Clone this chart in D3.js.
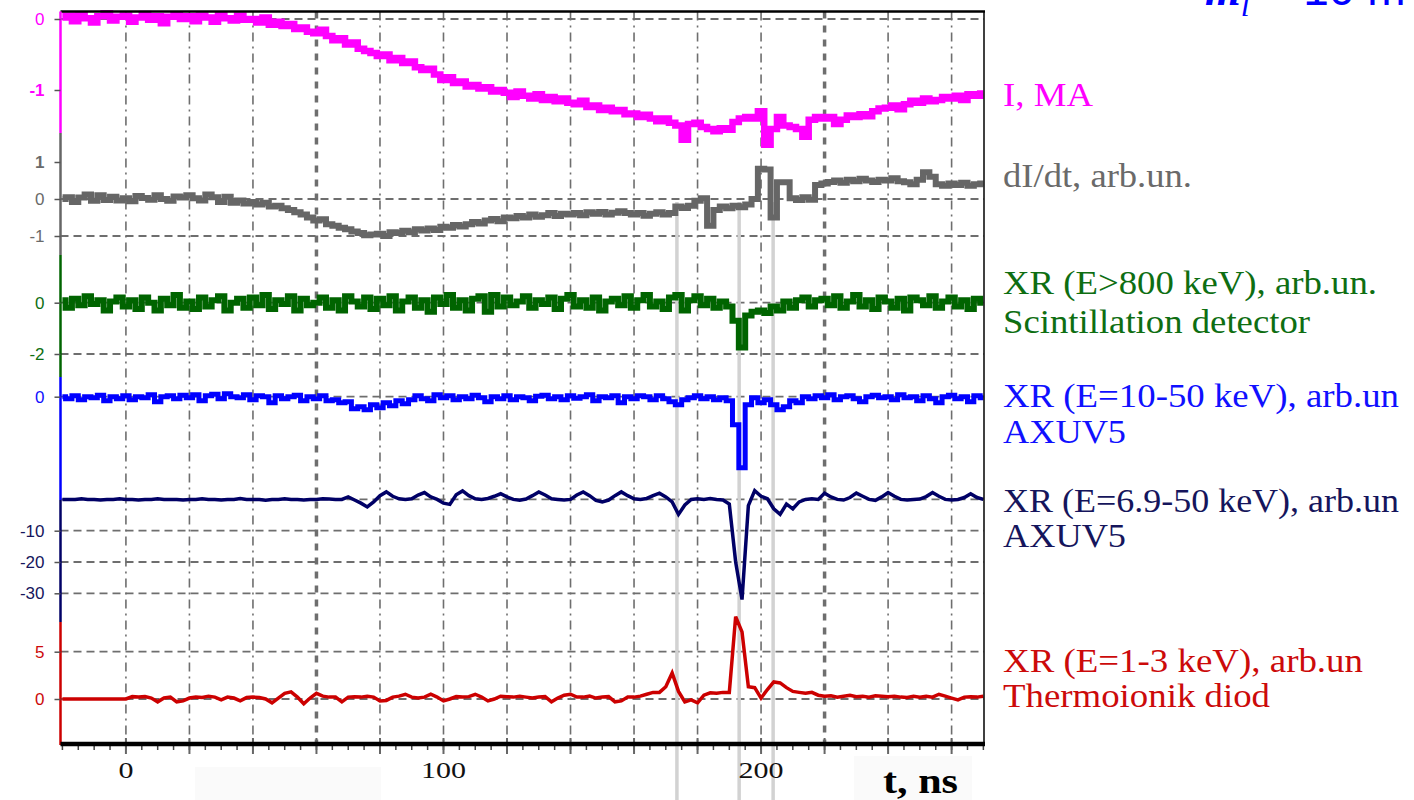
<!DOCTYPE html>
<html>
<head>
<meta charset="utf-8">
<script src="https://cdn.jsdelivr.net/npm/d3@7"></script>
<style>
  html, body { margin: 0; padding: 0; background: #fff; }
  svg { display: block; }
</style>
</head>
<body>
<svg id="chart" width="1414" height="800"></svg>
<script>
// Oscilloscope record: samples every 2 ns starting at t = -20 ns
const tStart = -20, tStep = 2;

// Discharge current, MA
const currentMA = [
  0.02, 0.05, -0.03, 0.06, 0.01, -0.05, 0.04, 0.08, -0.02, 0.03,
  0.05, -0.04, 0.02, 0.07, -0.01, 0.04, -0.06, 0.03, 0.06, 0.0,
  0.04, -0.03, 0.05, 0.02, -0.04, 0.06, 0.01, -0.02, 0.05, -0.01,
  0.0, -0.05, 0.02, -0.08, -0.04, -0.1, -0.07, -0.14, -0.12, -0.18,
  -0.2, -0.15, -0.24, -0.3, -0.27, -0.36, -0.33, -0.42, -0.45, -0.48,
  -0.52, -0.5, -0.58, -0.55, -0.62, -0.6, -0.68, -0.72, -0.7, -0.78,
  -0.86, -0.82, -0.9, -0.88, -0.95, -0.93, -0.98, -0.96, -1.02, -1.0,
  -1.04, -1.1, -1.02, -1.08, -1.12, -1.06, -1.14, -1.1, -1.16, -1.12,
  -1.18, -1.2, -1.15, -1.24, -1.22, -1.28, -1.25, -1.3, -1.28, -1.34,
  -1.33, -1.38, -1.35, -1.4, -1.44, -1.4, -1.46, -1.5, -1.7, -1.48,
  -1.46, -1.52, -1.55, -1.58, -1.54, -1.56, -1.45, -1.4, -1.38, -1.4,
  -1.3, -1.77, -1.55, -1.38, -1.5, -1.52, -1.55, -1.66, -1.42, -1.38,
  -1.4, -1.38, -1.48, -1.42, -1.36, -1.38, -1.34, -1.37, -1.3, -1.26,
  -1.25, -1.22, -1.27, -1.2, -1.15, -1.18, -1.12, -1.16, -1.14, -1.1,
  -1.12, -1.08, -1.14, -1.06, -1.08, -1.05
];

// Current derivative, arb. units
const dIdt = [
  0.0, 0.05, -0.08, 0.04, 0.12, -0.05, 0.1, -0.03, 0.06, -0.04,
  0.02, -0.06, 0.08, 0.03, -0.02, 0.1, 0.0, -0.05, 0.07, 0.04,
  0.1, 0.02, -0.04, 0.12, 0.05, -0.08, 0.06, -0.1, -0.04, -0.12,
  -0.08, -0.15, -0.1, -0.2, -0.18, -0.25, -0.3, -0.36, -0.42, -0.5,
  -0.58, -0.55, -0.68, -0.72, -0.78, -0.82, -0.88, -0.92, -0.98, -0.96,
  -0.94, -1.0, -0.9, -0.92, -0.86, -0.9, -0.82, -0.85, -0.8, -0.84,
  -0.75, -0.78, -0.7, -0.74, -0.68, -0.62, -0.66, -0.58, -0.54, -0.6,
  -0.5, -0.52, -0.46, -0.5, -0.42, -0.48, -0.44, -0.38, -0.46, -0.4,
  -0.42, -0.38, -0.44, -0.36, -0.4, -0.35, -0.42, -0.37, -0.33, -0.38,
  -0.42, -0.38, -0.45, -0.4, -0.36, -0.42, -0.38, -0.2, -0.24, -0.18,
  -0.05, 0.02, -0.72, -0.3, -0.2, -0.25, -0.18, -0.22, -0.15, 0.0,
  0.82, 0.8, -0.5, 0.45, 0.45, 0.02, -0.03, 0.05, -0.02, 0.38,
  0.42, 0.46, 0.5, 0.44, 0.52, 0.48, 0.55, 0.5, 0.46, 0.52,
  0.5, 0.56, 0.48, 0.45, 0.4, 0.52, 0.72, 0.6, 0.4, 0.36,
  0.42, 0.38, 0.44, 0.36, 0.4, 0.42
];

// Hard X-rays, E > 800 keV (scintillation detector)
const xrHard = [
  0.1, -0.2, 0.15, -0.1, 0.25, -0.05, 0.1, -0.3, 0.05, 0.2,
  -0.15, 0.1, -0.25, 0.2, 0.0, -0.3, 0.15, -0.1, 0.3, -0.2,
  0.05, -0.25, 0.2, -0.15, 0.1, 0.25, -0.3, 0.0, 0.15, -0.2,
  0.2, -0.1, 0.3, -0.25, 0.1, -0.05, 0.25, -0.3, 0.15, -0.1,
  0.0, 0.2, -0.2, 0.1, -0.3, 0.25, 0.05, -0.15, 0.2, -0.25,
  0.15, -0.1, 0.25, -0.3, 0.05, 0.2, -0.2, 0.1, -0.35, 0.2,
  -0.05, 0.3, -0.2, 0.1, -0.3, 0.15, 0.25, -0.35, 0.3, -0.15,
  0.2, -0.1, 0.05, 0.25, -0.2, 0.1, -0.05, 0.2, -0.25, 0.15,
  0.3, -0.15, 0.1, -0.2, 0.2, -0.3, 0.05, 0.15, -0.1, 0.25,
  -0.2, 0.1, 0.3, -0.15, 0.05, -0.25, 0.2, 0.3, -0.3, 0.1,
  0.25, -0.1, 0.15, -0.2, 0.05, -0.15, -0.7, -1.75, -0.5, -0.35,
  -0.3, -0.4, -0.15, -0.3, 0.05, -0.2, 0.1, 0.2, -0.15, 0.1,
  0.15, -0.1, 0.25, -0.2, 0.05, 0.3, -0.15, 0.1, -0.25, 0.2,
  0.05, -0.2, 0.15, -0.3, 0.2, 0.1, -0.1, 0.25, -0.2, 0.05,
  0.2, -0.15, 0.1, -0.25, 0.15, 0.0
];

// X-rays 10-50 keV (AXUV5)
const xr10to50 = [
  0.0, -0.2, 0.1, -0.3, 0.0, -0.1, 0.15, -0.4, 0.0, -0.2,
  0.1, -0.3, 0.0, -0.1, 0.2, -0.5, 0.0, 0.1, -0.2, 0.15,
  -0.1, 0.2, -0.4, 0.1, 0.25, -0.2, 0.3, 0.0, -0.1, 0.2,
  -0.3, 0.1, 0.0, -0.6, 0.1, -0.2, 0.0, 0.15, -0.4, 0.0,
  -0.2, 0.1, -0.4, -0.3, -0.6, -0.5, -1.2, -1.0, -1.3, -0.8,
  -1.1, -0.6, -0.9, -0.4, -0.7, -0.3, 0.1, -0.2, -0.4, 0.2,
  -0.1, 0.1, -0.3, 0.0, -0.2, 0.15, -0.1, -0.5, 0.0, -0.2,
  0.1, -0.3, 0.0, -0.1, -0.4, 0.05, 0.15, -0.2, 0.0, -0.3,
  0.1, -0.15, 0.0, 0.2, -0.4, 0.0, -0.1, 0.1, -0.6, 0.0,
  -0.2, 0.1, 0.0, -0.3, 0.1, -0.2, -0.5, -0.8, -0.3, -0.1,
  0.1, -0.2, 0.0, -0.3, -0.1, -0.4, -2.8, -7.1, -0.8, -0.1,
  -0.6, -0.3, -0.8, -1.3, -1.0, -0.4, -0.6, 0.0, -0.2, 0.1,
  -0.1, 0.2, -0.3, 0.0, 0.1, -0.2, -0.5, 0.0, 0.15, -0.1,
  0.0, -0.3, 0.2, -0.1, 0.0, -0.4, 0.1, -0.2, -0.6, 0.0,
  0.15, -0.2, 0.0, -0.5, 0.1, -0.1
];

// X-rays 6.9-50 keV (AXUV5)
const xr69to50 = [
  0, 0, 0, 0.2, 0, 0, -0.2, 0, 0, 0.2,
  0, 0, -0.2, 0, 0, 0.2, 0, 0, 0, -0.2,
  0, 0, 0.2, 0, 0, -0.2, 0, 0, 0.3, 0,
  0, 0, -0.3, 0, 0, 0.2, 0, 0, -0.2, 0,
  0, 0.2, 0.1, 0, 0, 0.8, -0.2, -1.2, -2.4, -0.8,
  1.2, 2.4, 1.0, 0.2, 0, 0.2, 1.4, 2.2, 0.8, 0,
  -1.2, -1.6, 1.5, 2.7, 1.2, 0.2, 0, 0.3, 1.0, 1.8,
  0.8, 0, -0.3, 0.1, 1.2, 2.4, 1.4, 0.2, 0, -0.2,
  0, 1.4, 2.4, 1.2, -0.3, -0.8, -0.2, 1.2, 2.4, 1.2,
  0.2, 0, 0.3, 1.2, 2.0, 0.8, -0.8, -4.8, -1.8, 0,
  0.2, 0, 0.3, 0, -0.2, -1.5, -20, -32, -2, 2.8,
  1.0, 0.2, -3.0, -4.8, -1.5, -3.0, -0.8, 0, 0.2, 0,
  2.0, 0.8, 0, -0.2, 0.6, 2.0, 1.0, 0, -0.3, 0.8,
  2.2, 1.0, 0, -0.2, 0, 0.1, 0.9, 2.2, 1.0, 0,
  -0.2, 0, 0.6, 1.8, 0.6, 0
];

// Soft X-rays 1-3 keV (thermionic diode)
const xr1to3 = [
  0, 0, 0, 0, 0, 0, 0, 0, 0, 0,
  0, 0.25, 0.2, 0.25, 0.1, -0.3, 0.1, 0.2, -0.3, -0.2,
  0.1, 0.2, 0.15, 0.3, 0.2, -0.1, 0.2, 0.1, -0.2, 0.15,
  0.2, 0.15, 0.0, -0.4, 0.1, 0.6, 0.75, 0.2, -0.5, 0.1,
  0.6, 0.3, 0.2, 0.2, -0.3, 0.2, 0.25, 0.2, 0.3, 0.2,
  -0.2, -0.15, 0.2, 0.3, 0.5, 0.2, 0.1, 0.2, 0.5, 0.2,
  -0.2, 0.0, 0.25, 0.2, 0.25, 0.5, 0.2, -0.2, 0.0, 0.3,
  0.25, 0.2, 0.3, 0.2, 0.1, 0.2, 0.25, -0.3, 0.1, 0.4,
  0.5, 0.2, 0.2, 0.3, 0.1, 0.2, 0.25, -0.3, -0.2, 0.2,
  0.2, 0.3, 0.5, 0.7, 0.7, 1.3, 2.75, 0.8, -0.3, -0.1,
  -0.4, 0.4, 0.65, 0.6, 0.7, 0.7, 8.7, 7.1, 1.3, 1.2,
  0.1, 1.0, 1.8, 1.7, 1.2, 0.8, 0.7, 0.6, 0.7, 0.4,
  0.3, 0.35, 0.2, 0.3, 0.4, 0.25, 0.3, 0.2, 0.35, 0.3,
  0.25, 0.3, 0.2, 0.15, 0.3, 0.2, 0.3, 0.2, 0.5, 0.3,
  0.1, -0.1, 0.2, 0.25, 0.2, 0.3
];

// Axis ticks and labels
const timeLabels = [0, 100, 200];
const gridTimes = [0, 20, 40, 60, 80, 100, 120, 140, 160, 180, 200, 220, 240, 260];
const markerTimes = [173.5, 193.1, 203.8];
const currentTicks = [0, -1], dIdtTicks = [1, 0, -1], xrHardTicks = [0, -2];
const xr10to50Ticks = [0], xr69to50Ticks = [-10, -20, -30], xr1to3Ticks = [5, 0];
const currentGrid = [0], dIdtGrid = [0, -1], xrHardGrid = [0, -2];
const xr10to50Grid = [0], xr69to50Grid = [0, -10, -20, -30], xr1to3Grid = [5, 0];

const legendText = [
  ["I, MA"],
  ["dI/dt, arb.un."],
  ["XR (E>800 keV), arb.un.", "Scintillation detector"],
  ["XR (E=10-50 keV), arb.un", "AXUV5"],
  ["XR (E=6.9-50 keV), arb.un", "AXUV5"],
  ["XR (E=1-3 keV), arb.un", "Thermoionik diod"]
];

// ---- layout ----
const plot = { left: 60.5, right: 984, top: 11.5, bottom: 744 };
const x = d3.scaleLinear().domain([-20.6, 270.2]).range([plot.left, plot.right]);

const traces = [
  { values: currentMA, color: "#ff00ff", text: "#ff00ff", width: 6.5, curve: d3.curveStep,
    domain: [0, -1], range: [19, 90], ticks: currentTicks, grid: currentGrid, seg: [11.5, 133],
    bold: [-1], legendY: [106], legendW: [90] },
  { values: dIdt, color: "#666666", text: "#6a6a6a", width: 6, curve: d3.curveStep,
    domain: [-1, 1], range: [236, 162], ticks: dIdtTicks, grid: dIdtGrid, seg: [133, 255],
    bold: [1], legendY: [187], legendW: [189] },
  { values: xrHard, color: "#006400", text: "#0e6e12", width: 6, curve: d3.curveStep,
    domain: [0, -2], range: [302.7, 354], ticks: xrHardTicks, grid: xrHardGrid, seg: [255, 377],
    bold: [], legendY: [294, 333], legendW: [374, 307] },
  { values: xr10to50, color: "#0000ff", text: "#1010ff", width: 5, curve: d3.curveStep,
    domain: [0, -7.1], range: [396.7, 467.7], ticks: xr10to50Ticks, grid: xr10to50Grid, seg: [377, 500],
    bold: [], legendY: [407, 443], legendW: [396, 123] },
  { values: xr69to50, color: "#000066", text: "#15155c", width: 3.5, curve: d3.curveLinear,
    domain: [-10, -30], range: [530.7, 593.3], ticks: xr69to50Ticks, grid: xr69to50Grid, seg: [500, 622],
    bold: [], legendY: [512, 547], legendW: [396, 123] },
  { values: xr1to3, color: "#cc0000", text: "#cc0a0a", width: 3.5, curve: d3.curveLinear,
    domain: [0, 5], range: [699, 651.7], ticks: xr1to3Ticks, grid: xr1to3Grid, seg: [622, 745],
    bold: [], legendY: [672, 707], legendW: [360, 267] }
];
traces.forEach(tr => { tr.y = d3.scaleLinear().domain(tr.domain).range(tr.range); });

const svg = d3.select("#chart");
svg.append("rect").attr("width", 1414).attr("height", 800).attr("fill", "#fff");

// faint panels behind the time labels
svg.append("rect").attr("x", 195).attr("y", 767).attr("width", 186).attr("height", 33).attr("fill", "#fafafa");
svg.append("rect").attr("x", 854).attr("y", 756).attr("width", 118).attr("height", 44).attr("fill", "#fafafa");

// ---- grid ----
const grid = svg.append("g");
grid.selectAll("line.v").data(gridTimes).join("line")
  .attr("x1", d => x(d)).attr("x2", d => x(d))
  .attr("y1", plot.top).attr("y2", plot.bottom)
  .attr("stroke", "#6e6e6e")
  .attr("stroke-width", d => (d === 60 || d === 220) ? 3.5 : 1.6)
  .attr("stroke-dasharray", d => (d === 60 || d === 220) ? "7,7" : "9,5,2,5");

traces.forEach(tr => {
  grid.selectAll(null).data(tr.grid).join("line")
    .attr("x1", plot.left).attr("x2", plot.right)
    .attr("y1", d => tr.y(d)).attr("y2", d => tr.y(d))
    .attr("stroke", "#6e6e6e").attr("stroke-width", 1.8)
    .attr("stroke-dasharray", "8,5");
});

// event markers
svg.append("g").selectAll("line").data(markerTimes).join("line")
  .attr("x1", d => x(d)).attr("x2", d => x(d))
  .attr("y1", 202).attr("y2", 800)
  .attr("stroke", "#d2d2d2").attr("stroke-width", 3.5);

// ---- traces ----
traces.forEach(tr => {
  const line = d3.line()
    .x((d, i) => x(tStart + i * tStep))
    .y(d => tr.y(d))
    .curve(tr.curve);
  svg.append("path")
    .datum(tr.values)
    .attr("d", line)
    .attr("fill", "none")
    .attr("stroke", tr.color)
    .attr("stroke-width", tr.width)
    .attr("stroke-linejoin", "miter");
});

// ---- frame ----
svg.append("line").attr("x1", plot.left).attr("x2", plot.right + 1).attr("y1", plot.top).attr("y2", plot.top)
  .attr("stroke", "#000").attr("stroke-width", 2.5);
svg.append("line").attr("x1", plot.right).attr("x2", plot.right).attr("y1", plot.top).attr("y2", plot.bottom)
  .attr("stroke", "#000").attr("stroke-width", 1.5);

// left axis: one coloured segment per channel with its own ticks
traces.forEach(tr => {
  svg.append("line").attr("x1", plot.left).attr("x2", plot.left)
    .attr("y1", tr.seg[0]).attr("y2", tr.seg[1])
    .attr("stroke", tr.color).attr("stroke-width", 2.5);
  const ax = svg.append("g")
    .attr("transform", `translate(${plot.left},0)`)
    .call(d3.axisLeft(tr.y).tickValues(tr.ticks).tickSize(6).tickPadding(10).tickFormat(d => String(d)));
  ax.select(".domain").remove();
  ax.selectAll(".tick line").attr("stroke", "#555").attr("stroke-width", 1.5);
  ax.selectAll(".tick text")
    .attr("fill", tr.text)
    .attr("font-family", "'Liberation Sans', Arial, sans-serif")
    .attr("font-size", 17)
    .attr("font-weight", d => tr.bold.includes(d) ? "bold" : "normal");
});

// bottom time axis
const minorTimes = d3.range(-20, 271, 5);
svg.append("g").selectAll("line").data(minorTimes).join("line")
  .attr("x1", d => x(d)).attr("x2", d => x(d))
  .attr("y1", plot.bottom).attr("y2", plot.bottom + 6)
  .attr("stroke", "#444").attr("stroke-width", 1.5);
svg.append("g").selectAll("line").data(gridTimes).join("line")
  .attr("x1", d => x(d)).attr("x2", d => x(d))
  .attr("y1", plot.bottom - 6).attr("y2", plot.bottom + 10)
  .attr("stroke", "#666").attr("stroke-width", 2);
svg.append("line").attr("x1", plot.left).attr("x2", plot.right + 1).attr("y1", plot.bottom).attr("y2", plot.bottom)
  .attr("stroke", "#000").attr("stroke-width", 4.5);

svg.append("g").selectAll("text").data(timeLabels).join("text")
  .attr("x", d => x(d)).attr("y", 778)
  .attr("text-anchor", "middle")
  .attr("font-family", "'Liberation Serif', 'Times New Roman', serif")
  .attr("font-size", 24)
  .attr("textLength", d => String(d).length * 15)
  .attr("lengthAdjust", "spacingAndGlyphs")
  .attr("fill", "#111")
  .text(d => d);

svg.append("text").attr("x", 883).attr("y", 793)
  .attr("font-family", "'Liberation Serif', 'Times New Roman', serif")
  .attr("font-size", 36).attr("font-weight", "bold")
  .attr("textLength", 75).attr("lengthAdjust", "spacingAndGlyphs")
  .attr("fill", "#000")
  .text("t, ns");

// channel captions
traces.forEach((tr, k) => {
  legendText[k].forEach((s, j) => {
    svg.append("text")
      .attr("x", 1003).attr("y", tr.legendY[j])
      .attr("font-family", "'Liberation Serif', 'Times New Roman', serif")
      .attr("font-size", 34)
      .attr("textLength", tr.legendW[j]).attr("lengthAdjust", "spacingAndGlyphs")
      .attr("fill", tr.text)
      .text(s);
  });
});

// heading fragment running off the top edge
const head = svg.append("text").attr("x", 1205).attr("y", 5)
  .attr("fill", "#0000ff").attr("font-size", 46)
  .attr("font-family", "'Liberation Serif', 'Times New Roman', serif");
head.append("tspan").attr("font-style", "italic").attr("font-weight", "bold").text("m");
head.append("tspan").attr("font-style", "italic").attr("font-size", 32).attr("dy", 11).text("l");
head.append("tspan").attr("dy", -11).attr("font-family", "'Liberation Sans', Arial, sans-serif")
  .attr("dx", 14).text("= 10 m");
</script>
</body>
</html>
